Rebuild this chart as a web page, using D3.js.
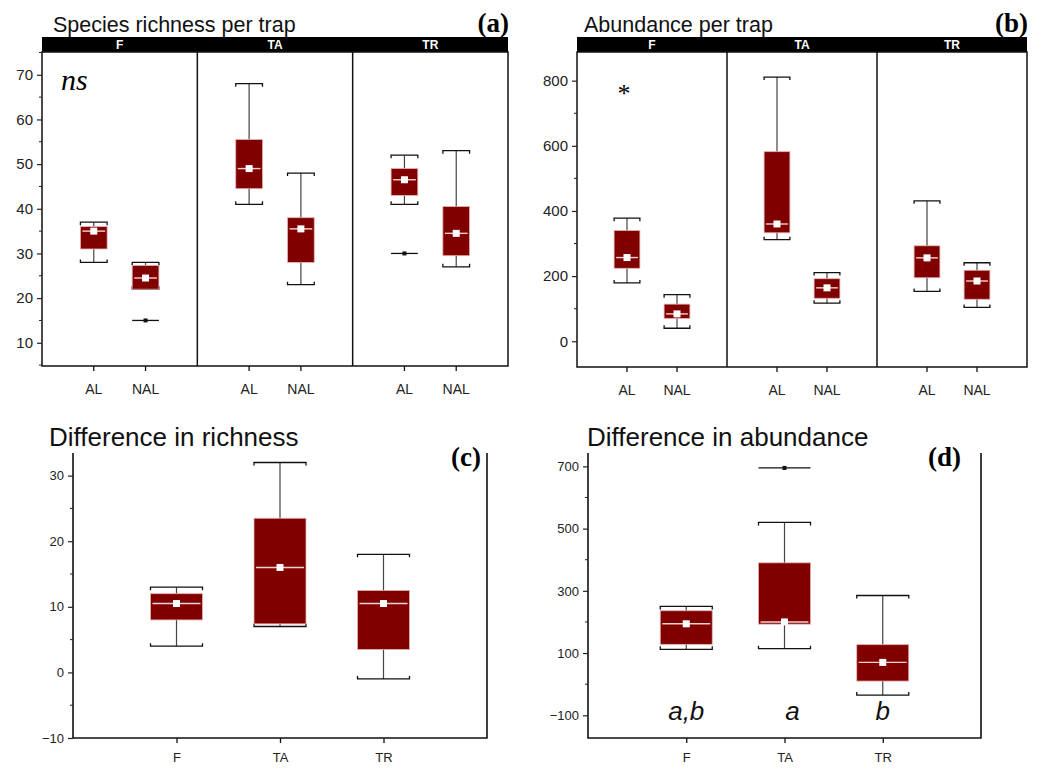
<!DOCTYPE html>
<html lang="en">
<head>
    <meta charset="UTF-8">
    <title>Richness and abundance per trap</title>
    <script src="https://cdn.jsdelivr.net/npm/d3@7"></script>
    <style>
        body { margin: 0; background: #fff; }
        svg text { font-family: "Liberation Sans", Arial, sans-serif; }
    </style>
</head>
<body>
    <svg id="chart" width="1048" height="769"></svg>

    <script>
        // sites and trap types
        const sites = ["F", "TA", "TR"];
        const traps = ["AL", "NAL"];

        // five-number summaries [min, q1, median, q3, max], one per site
        const richnessAL  = [[28, 31, 35, 36, 37], [41, 44.5, 49, 55.5, 68], [41, 43, 46.5, 49, 52]];
        const richnessNAL = [[22, 22, 24.5, 27.3, 28], [23, 28, 35.5, 38, 48], [27, 29.5, 34.5, 40.5, 53]];
        const richnessOutliers = [{ site: "F", trap: "NAL", value: 15 }, { site: "TR", trap: "AL", value: 30 }];

        const abundanceAL  = [[179, 224, 257, 340, 378], [312, 333, 360, 582, 811], [153, 195, 256, 293, 431]];
        const abundanceNAL = [[40, 70, 84, 114, 143], [117, 132, 164, 192, 211], [104, 129, 185, 218, 241]];
        const abundanceOutliers = [];

        const diffRichness = [[4, 8, 10.5, 12, 13], [7, 7.4, 16, 23.5, 32], [-1, 3.5, 10.5, 12.5, 18]];
        const diffRichnessOutliers = [];
        const diffAbundance = [[112, 128, 194, 236, 250], [114, 193, 200, 390, 520], [-35, 10, 70, 127, 285]];
        const diffAbundanceOutliers = [{ site: "TA", value: 695 }];
        const abundanceLetters = ["a,b", "a", "b"];

        const richTicks = [10, 20, 30, 40, 50, 60, 70];
        const abundTicks = [0, 200, 400, 600, 800];
        const diffRichTicks = [-10, 0, 10, 20, 30];
        const diffAbundTicks = [-100, 100, 300, 500, 700];

        const svg = d3.select("#chart");
        const boxFill = "#800000";

        // one box-and-whisker at x (center), width w
        function drawBox(g, x, w, s, y) {
            const [lo, q1, med, q3, hi] = s;
            const half = w / 2;
            // whisker
            g.append("line").attr("x1", x).attr("x2", x).attr("y1", y(hi)).attr("y2", y(lo))
                .attr("stroke", "#444").attr("stroke-width", 1.2);
            [[hi, 3], [lo, -3]].forEach(([v, d]) => {
                g.append("path")
                    .attr("d", `M${x - half},${y(v) + d}V${y(v)}H${x + half}V${y(v) + d}`)
                    .attr("fill", "none").attr("stroke", "#111").attr("stroke-width", 1.3);
            });
            g.append("rect")
                .attr("x", x - half).attr("width", w)
                .attr("y", y(q3)).attr("height", Math.max(1, y(q1) - y(q3)))
                .attr("fill", boxFill).attr("stroke", "#e6b0b0").attr("stroke-width", 0.8);
            g.append("line").attr("x1", x - half + 2).attr("x2", x + half - 2)
                .attr("y1", y(med)).attr("y2", y(med))
                .attr("stroke", "#f3d2d2").attr("stroke-width", 1.4);
            g.append("rect").attr("x", x - 3.5).attr("y", y(med) - 3.5)
                .attr("width", 7).attr("height", 7).attr("fill", "#fff");
        }

        function drawOutlier(g, x, w, v, y) {
            g.append("line").attr("x1", x - w / 2).attr("x2", x + w / 2)
                .attr("y1", y(v)).attr("y2", y(v)).attr("stroke", "#111").attr("stroke-width", 1.3);
            g.append("rect").attr("x", x - 2).attr("y", y(v) - 2)
                .attr("width", 4).attr("height", 4).attr("fill", "#111");
        }

        function yAxis(g, y, x0, ticks, minor, fontSize) {
            const axis = d3.axisLeft(y).tickValues(ticks).tickSize(5).tickPadding(4);
            const ax = g.append("g").attr("transform", `translate(${x0},0)`).call(axis);
            ax.select(".domain").remove();
            ax.selectAll("text").attr("font-size", fontSize).attr("fill", "#222")
                .style("font-family", "'Liberation Sans', Arial, sans-serif");
            ax.selectAll("line").attr("stroke", "#222").attr("stroke-width", 1.2);
            g.append("g").selectAll("line").data(minor).join("line")
                .attr("x1", x0 - 3).attr("x2", x0)
                .attr("y1", d => y(d)).attr("y2", d => y(d))
                .attr("stroke", "#222").attr("stroke-width", 1);
        }

        // ---------- (a) and (b): faceted panels ----------
        function facetPanel(opt) {
            const { left, right, top, bottom, domain, ticks, minor, title, tag, series, outliers } = opt;
            const g = svg.append("g");
            const y = d3.scaleLinear().domain(domain).range([bottom, top]);
            const facet = d3.scaleBand().domain(sites).range([left, right]);
            const inner = d3.scalePoint().domain(traps).range([0, facet.bandwidth()]).padding(1);
            const boxW = facet.bandwidth() * 0.172;

            // strip
            g.append("rect").attr("x", left).attr("y", top - 15).attr("width", right - left).attr("height", 15)
                .attr("fill", "#000");
            g.selectAll(".strip").data(sites).join("text")
                .attr("x", d => facet(d) + facet.bandwidth() / 2).attr("y", top - 3.5)
                .attr("text-anchor", "middle").attr("fill", "#fff")
                .attr("font-size", 12).attr("font-weight", "bold").text(d => d);

            // frame and dividers
            g.append("rect").attr("x", left).attr("y", top).attr("width", right - left).attr("height", bottom - top)
                .attr("fill", "none").attr("stroke", "#111").attr("stroke-width", 1.5);
            g.selectAll(".div").data(sites.slice(1)).join("line")
                .attr("x1", d => facet(d)).attr("x2", d => facet(d))
                .attr("y1", top).attr("y2", bottom).attr("stroke", "#111").attr("stroke-width", 1.5);

            yAxis(g, y, left, ticks, minor, 15);

            sites.forEach((s, i) => {
                traps.forEach((t, j) => {
                    const x = facet(s) + inner(t);
                    drawBox(g, x, boxW, series[j][i], y);
                    g.append("line").attr("x1", x).attr("x2", x).attr("y1", bottom).attr("y2", bottom + 5)
                        .attr("stroke", "#111").attr("stroke-width", 1.3);
                    g.append("text").attr("x", x).attr("y", bottom + 28).attr("text-anchor", "middle")
                        .attr("font-size", 14).attr("fill", "#222").text(t);
                });
            });
            outliers.forEach(o => {
                drawOutlier(g, facet(o.site) + inner(o.trap), boxW, o.value, y);
            });

            g.append("text").attr("x", opt.titleX).attr("y", top - 20.5).attr("font-size", 21.5)
                .attr("fill", "#111").text(title);
            g.append("text").attr("x", right + 1).attr("y", top - 20).attr("text-anchor", "end")
                .attr("font-size", 27).attr("font-weight", "bold")
                .style("font-family", "'Liberation Serif', 'Times New Roman', serif").text(tag);
            return { g, y, facet, inner };
        }

        const pa = facetPanel({
            left: 42, right: 508, top: 52, bottom: 366, domain: [4.8, 75.1],
            ticks: richTicks, minor: d3.range(5, 76, 10),
            title: "Species richness per trap", titleX: 53, tag: "(a)",
            series: [richnessAL, richnessNAL], outliers: richnessOutliers
        });
        pa.g.append("text").attr("x", 61).attr("y", 90).attr("font-size", 30)
            .attr("font-style", "italic").style("font-family", "'Liberation Serif', serif").text("ns");

        const pb = facetPanel({
            left: 577, right: 1027, top: 52, bottom: 367, domain: [-79, 888],
            ticks: abundTicks, minor: d3.range(100, 801, 200),
            title: "Abundance per trap", titleX: 584, tag: "(b)",
            series: [abundanceAL, abundanceNAL], outliers: abundanceOutliers
        });
        pb.g.append("text").attr("x", pb.facet("F") + pb.inner("AL") - 3).attr("y", pb.y(735))
            .attr("text-anchor", "middle").attr("font-size", 26)
            .style("font-family", "'Liberation Serif', serif").text("*");

        // ---------- (c) and (d): difference panels ----------
        function diffPanel(opt) {
            const { left, right, top, bottom, domain, ticks, minor, title, tag, series, outliers } = opt;
            const g = svg.append("g");
            const y = d3.scaleLinear().domain(domain).range([bottom, top]);
            const x = d3.scalePoint().domain(sites).range([left, right]).padding(1);
            const boxW = 52;

            g.append("path").attr("d", `M${left},${top}V${bottom}H${right}V${top}`)
                .attr("fill", "none").attr("stroke", "#111").attr("stroke-width", 1.6);

            yAxis(g, y, left, ticks, minor, 13);

            const xa = g.append("g").attr("transform", `translate(0,${bottom})`)
                .call(d3.axisBottom(x).tickSize(5).tickPadding(10));
            xa.select(".domain").remove();
            xa.selectAll("line").attr("stroke", "#111").attr("stroke-width", 1.3);
            xa.selectAll("text").attr("font-size", 13).attr("fill", "#222")
                .style("font-family", "'Liberation Sans', Arial, sans-serif");

            sites.forEach((s, i) => drawBox(g, x(s), boxW, series[i], y));
            outliers.forEach(o => drawOutlier(g, x(o.site), boxW, o.value, y));

            g.append("text").attr("x", opt.titleX).attr("y", top - 7).attr("font-size", 26)
                .attr("fill", "#111").text(title);
            g.append("text").attr("x", opt.tagX).attr("y", top + 13).attr("text-anchor", "end")
                .attr("font-size", 27).attr("font-weight", "bold")
                .style("font-family", "'Liberation Serif', 'Times New Roman', serif").text(tag);
            return { g, x, y };
        }

        diffPanel({
            left: 73, right: 487, top: 453, bottom: 738, domain: [-10, 33.45],
            ticks: diffRichTicks, minor: [-5, 5, 15, 25],
            title: "Difference in richness", titleX: 49, tagX: 481, tag: "(c)",
            series: diffRichness, outliers: diffRichnessOutliers
        });

        const pd = diffPanel({
            left: 588, right: 981, top: 453, bottom: 738, domain: [-173, 743],
            ticks: diffAbundTicks, minor: [0, 200, 400, 600],
            title: "Difference in abundance", titleX: 587, tagX: 961, tag: "(d)",
            series: diffAbundance, outliers: diffAbundanceOutliers
        });
        pd.g.selectAll(".letter").data(sites).join("text")
            .attr("x", (d, i) => pd.x(d) + [0, 8, 0][i]).attr("y", 720)
            .attr("text-anchor", "middle").attr("font-size", 26).attr("font-style", "italic")
            .attr("fill", "#111").text((d, i) => abundanceLetters[i]);
    </script>
</body>
</html>
